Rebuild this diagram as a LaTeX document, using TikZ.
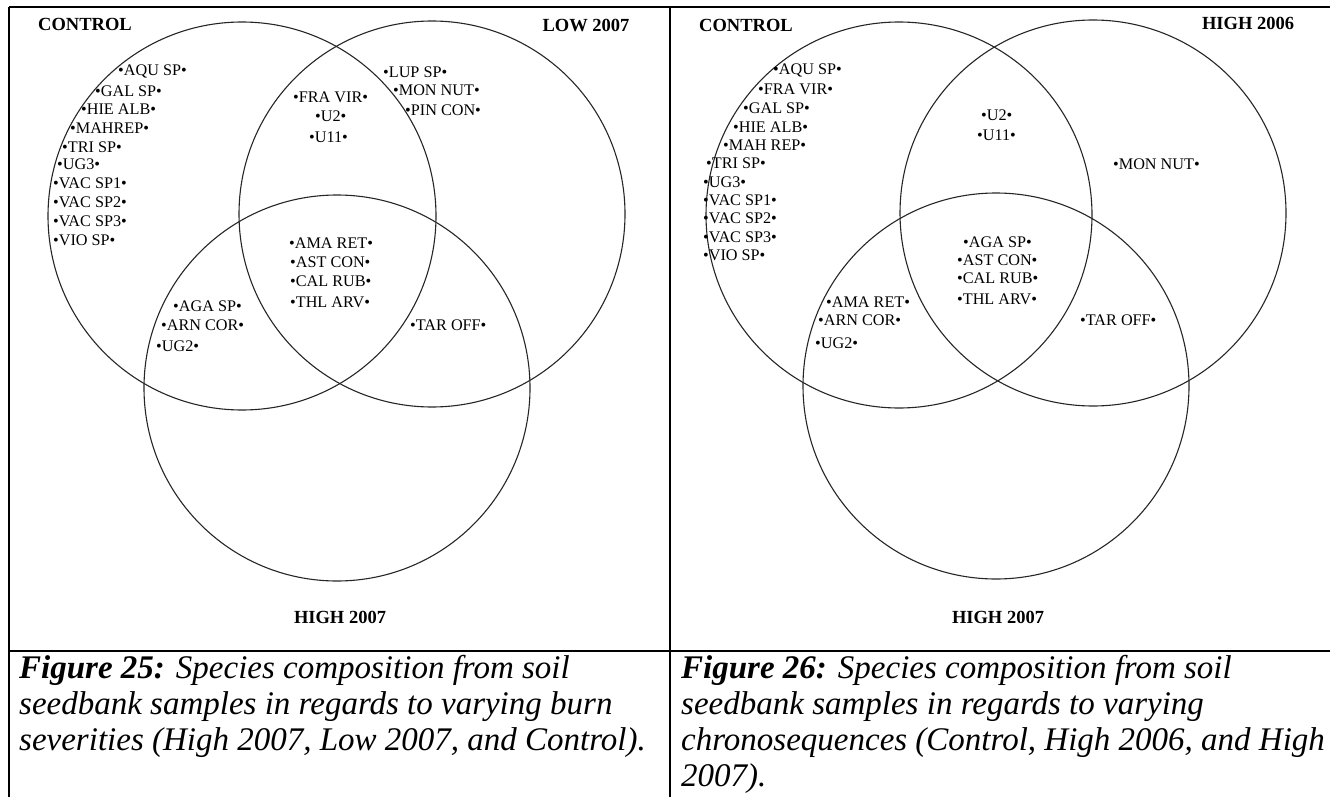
\documentclass[tikz,border=0pt]{standalone}
\usepackage{fontspec}
\setmainfont{Liberation Serif}
\tikzset{
  sp/.style={anchor=west, inner sep=0pt, font=\fontsize{16.2}{19}\selectfont},
  hd/.style={inner sep=0pt, font=\fontsize{18.5}{22}\selectfont\bfseries},
  ring/.style={draw=black!85, line width=1.1pt, circle, minimum size=386pt, inner sep=0pt},
  rulestyle/.style={draw=black, line width=1.8pt},
  captxt/.style={anchor=north west, inner sep=0pt, align=left, font=\fontsize{33}{36}\selectfont\itshape}
}
\begin{document}
\begin{tikzpicture}[x=1pt,y=-1pt]
\useasboundingbox (0,0) rectangle (1330,797);
% table rules
\coordinate (tl) at (9,7);
\coordinate (tr) at (1330,7);
\coordinate (bl) at (9,797);
\coordinate (tm) at (670,7);
\coordinate (bm) at (670,797);
\coordinate (ml) at (9,651);
\coordinate (mr) at (1330,651);
\draw[rulestyle] (tl) -- (tr);
\draw[rulestyle] (tl) -- (bl);
\draw[rulestyle] (tm) -- (bm);
\draw[rulestyle] (ml) -- (mr);

% ---------- left panel ----------
\node[ring, minimum size=388pt] (lc) at (242,216) {};
\node[ring] (ll) at (432,214) {};
\node[ring] (lh) at (337,388) {};
\node[hd] (lcT) at (85,24) {CONTROL};
\node[hd] (llT) at (586,25) {LOW 2007};
\node[hd] (lhT) at (340,617) {HIGH 2007};

\node[sp] (a1) at (118,71) {•AQU SP•};
\node[sp] (a2) at (95,91) {•GAL SP•};
\node[sp] (a3) at (81,109) {•HIE ALB•};
\node[sp] (a4) at (70,128) {•MAHREP•};
\node[sp] (a5) at (62,147) {•TRI SP•};
\node[sp] (a6) at (57,164) {•UG3•};
\node[sp] (a7) at (53,183) {•VAC SP1•};
\node[sp] (a8) at (53,202) {•VAC SP2•};
\node[sp] (a9) at (53,221) {•VAC SP3•};
\node[sp] (a10) at (53,240) {•VIO SP•};

\node[sp] (b1) at (293,97) {•FRA VIR•};
\node[sp] (b2) at (315,116) {•U2•};
\node[sp] (b3) at (309,137) {•U11•};

\node[sp] (c1) at (383,72) {•LUP SP•};
\node[sp] (c2) at (393,90) {•MON NUT•};
\node[sp] (c3) at (405,110) {•PIN CON•};

\node[sp] (d1) at (289,243) {•AMA RET•};
\node[sp] (d2) at (290,262) {•AST CON•};
\node[sp] (d3) at (290,281) {•CAL RUB•};
\node[sp] (d4) at (290,302) {•THL ARV•};

\node[sp] (e1) at (173,306) {•AGA SP•};
\node[sp] (e2) at (161,325) {•ARN COR•};
\node[sp] (e3) at (156,346) {•UG2•};

\node[sp] (f1) at (410,325) {•TAR OFF•};

% ---------- right panel ----------
\node[ring] (rc) at (899,215) {};
\node[ring] (r6) at (1093,213) {};
\node[ring] (r7) at (996,386) {};
\node[hd] (rcT) at (746,25) {CONTROL};
\node[hd] (r6T) at (1248,23) {HIGH 2006};
\node[hd] (r7T) at (998,617) {HIGH 2007};

\node[sp] (g1) at (773,70) {•AQU SP•};
\node[sp] (g2) at (758,89) {•FRA VIR•};
\node[sp] (g3) at (743,108) {•GAL SP•};
\node[sp] (g4) at (733,127) {•HIE ALB•};
\node[sp] (g5) at (723,145) {•MAH REP•};
\node[sp] (g6) at (706,163) {•TRI SP•};
\node[sp] (g7) at (703,182) {•UG3•};
\node[sp] (g8) at (703,200) {•VAC SP1•};
\node[sp] (g9) at (703,218) {•VAC SP2•};
\node[sp] (g10) at (703,237) {•VAC SP3•};
\node[sp] (g11) at (703,255) {•VIO SP•};

\node[sp] (h1) at (981,115) {•U2•};
\node[sp] (h2) at (977,135) {•U11•};

\node[sp] (i1) at (1113,164) {•MON NUT•};

\node[sp] (j1) at (963,242) {•AGA SP•};
\node[sp] (j2) at (957,260) {•AST CON•};
\node[sp] (j3) at (957,278) {•CAL RUB•};
\node[sp] (j4) at (957,299) {•THL ARV•};

\node[sp] (k1) at (826,302) {•AMA RET•};
\node[sp] (k2) at (818,320) {•ARN COR•};
\node[sp] (k3) at (815,343) {•UG2•};

\node[sp] (m1) at (1080,320) {•TAR OFF•};

% ---------- captions ----------
\node[captxt] (cap25) at (19,655) {\textbf{Figure 25:} Species composition from soil\\seedbank samples in regards to varying burn\\severities (High 2007, Low 2007, and Control).};
\node[captxt] (cap26) at (681,655) {\textbf{Figure 26:} Species composition from soil\\seedbank samples in regards to varying\\chronosequences (Control, High 2006, and High\\2007).};
\end{tikzpicture}
\end{document}
